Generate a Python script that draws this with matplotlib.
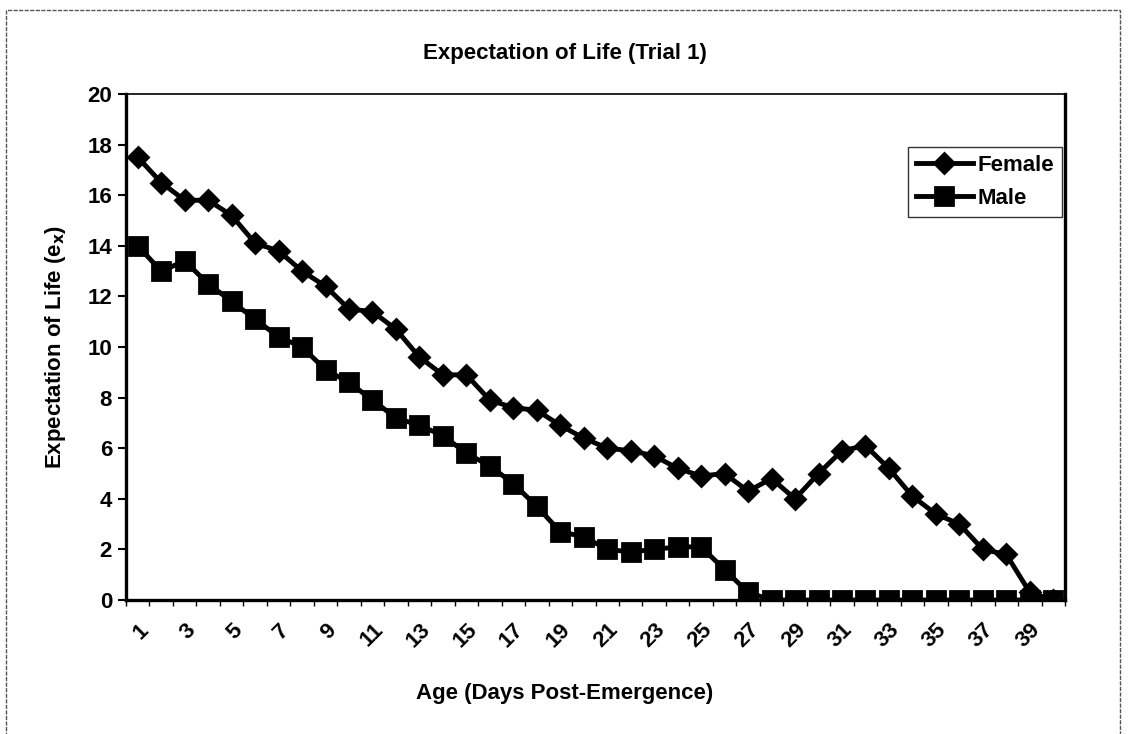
import matplotlib
matplotlib.use('Agg')
import matplotlib.pyplot as plt
from matplotlib.patches import Rectangle

# ages (days post-emergence), one category per day
ages = list(range(1, 41))
age_labels = [str(a) if a % 2 == 1 else '' for a in ages]

female = [17.5, 16.5, 15.8, 15.8, 15.2, 14.1, 13.8, 13.0, 12.4, 11.5,
          11.4, 10.7, 9.6, 8.9, 8.9, 7.9, 7.6, 7.5, 6.9, 6.4,
          6.0, 5.9, 5.7, 5.2, 4.9, 5.0, 4.3, 4.8, 4.0, 5.0,
          5.9, 6.1, 5.2, 4.1, 3.4, 3.0, 2.0, 1.8, 0.3, 0.0]
male = [14.0, 13.0, 13.4, 12.5, 11.8, 11.1, 10.4, 10.0, 9.1, 8.6,
        7.9, 7.2, 6.9, 6.5, 5.8, 5.3, 4.6, 3.7, 2.7, 2.5,
        2.0, 1.9, 2.0, 2.1, 2.1, 1.2, 0.3, 0.0, 0.0, 0.0,
        0.0, 0.0, 0.0, 0.0, 0.0, 0.0, 0.0, 0.0, 0.0, 0.0]

plt.rcParams['font.family'] = ['Liberation Sans', 'DejaVu Sans']
plt.rcParams['font.weight'] = 'bold'
fs = 16

fig = plt.figure(figsize=(11.29, 7.34), dpi=100)
ax = fig.add_axes([126 / 1129, 1 - 600 / 734, (1065 - 126) / 1129, (600 - 94) / 734])

ax.plot(ages, female, color='black', lw=3.5, marker='D', ms=10,
        mec='black', mew=2, solid_joinstyle='round', label='Female')
ax.plot(ages, male, color='black', lw=3.5, marker='s', ms=13,
        mec='black', mew=2, solid_joinstyle='round', label='Male')

ax.set_xlim(0.5, 40.5)
ax.set_ylim(0, 20)
ax.set_yticks(range(0, 21, 2))
ax.set_xticks(ages)
ax.set_xticklabels(age_labels, rotation=45, ha='right', va='top',
                   rotation_mode='anchor', fontsize=fs, fontweight='bold')
ax.set_xticks([a + 0.5 for a in range(0, 41)], minor=True)
ax.tick_params(axis='x', which='major', length=0, pad=14)
ax.tick_params(axis='x', which='minor', length=4, width=1, direction='out')
ax.tick_params(axis='y', length=6, width=1.5, direction='out', labelsize=fs, pad=4)
for lbl in ax.get_yticklabels():
    lbl.set_fontweight('bold')

for side in ['left', 'bottom', 'right']:
    ax.spines[side].set_linewidth(2.4)
ax.spines['top'].set_linewidth(1.2)

fig.text(0.5, 1 - 54 / 734, 'Expectation of Life (Trial 1)', ha='center', va='center',
         fontsize=fs, fontweight='bold')
fig.text(0.5, 1 - 693 / 734, 'Age (Days Post-Emergence)', ha='center', va='center',
         fontsize=fs, fontweight='bold')
fig.text(56 / 1129, 1 - 347 / 734, 'Expectation of Life (e$_\\mathbf{x}$)', ha='center', va='center',
         rotation=90, fontsize=fs, fontweight='bold')

leg = ax.legend(loc='upper right', bbox_to_anchor=(0.997, 0.895), borderaxespad=0,
                fontsize=fs, handlelength=2.6, handletextpad=0.2, frameon=True,
                fancybox=False, edgecolor='black', borderpad=0.35, labelspacing=0.55)
leg.get_frame().set_linewidth(1.0)
for t in leg.get_texts():
    t.set_fontweight('bold')

# outer chart border
fig.patches.append(Rectangle((6 / 1129, -0.02), (1120 - 6) / 1129, 1.02 - 10 / 734,
                             transform=fig.transFigure, fill=False, lw=1,
                             edgecolor='#555555', linestyle=(0, (3, 1))))

fig.savefig('out.png', dpi=100)
